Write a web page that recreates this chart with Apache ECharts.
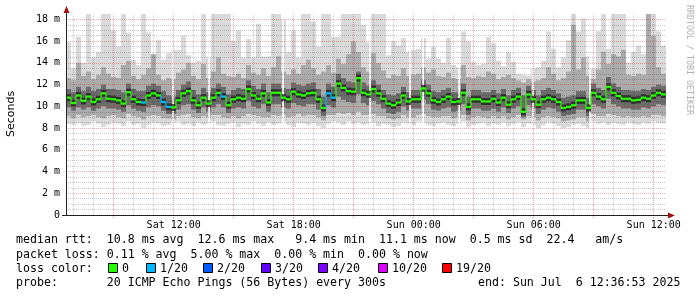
<!DOCTYPE html>
<html><head><meta charset="utf-8">
<script src="https://cdn.jsdelivr.net/npm/echarts@6/dist/echarts.min.js"></script>
<style>html,body{margin:0;padding:0;background:#fff}#c{width:697px;height:297px}</style>
</head><body><div id="c"></div>
<script>
// time in hours since Sat 00:00; window starts Sat 06:36:53 and spans 30 h
const startHour = 6 + 36 / 60 + 53 / 3600;
const spanHours = 30;
const stepHours = 0.25;           // one smoke column = 15 minutes
const gapHours = 5 / 60;           // width of a missing 300 s sample

const median = [10.8,10.3,11.0,10.5,10.9,10.4,10.65,11.2,10.7,10.65,
 10.55,10.25,11.3,10.65,10.4,10.35,11.0,11.2,11.0,10.4,
 9.95,9.9,10.55,11.2,11.4,10.55,10.1,10.8,10.25,10.8,
 11.25,10.9,10.1,10.65,10.8,10.7,11.6,11.0,10.7,11.2,
 10.35,11.25,11.25,10.8,10.65,11.35,11.1,11.0,11.2,11.25,
 10.65,9.85,11.2,10.8,12.1,11.7,11.4,11.35,12.6,11.25,
 11.1,11.6,11.2,10.7,10.25,10.1,10.35,11.0,10.45,10.65,
 10.65,11.65,11.2,10.55,10.4,10.65,10.9,10.4,10.45,11.25,
 9.95,10.65,10.65,10.45,10.45,10.7,10.35,10.8,10.15,10.65,
 10.9,9.5,11.1,10.65,10.15,10.65,10.8,10.65,10.4,9.85,
 9.95,10.1,10.55,10.55,9.85,11.25,10.9,10.65,11.8,11.25,
 10.95,10.7,10.7,10.55,10.6,10.8,10.7,11.0,11.25,11.1];

const lossCount = [0,0,0,0,0,0,0,0,0,0, 0,0,0,0,0,1,0,0,0,1, 1,0,0,0,0,0,0,0,0,0,
 0,1,0,0,0,0,0,0,0,0, 0,0,0,0,0,0,0,0,0,0, 0,0,1,1,0,0,0,0,0,0,
 0,0,0,0,0,0,0,0,0,0, 0,0,0,0,0,0,0,0,0,0, 0,0,0,0,0,0,0,0,0,0,
 0,0,0,0,0,0,0,0,0,0, 0,0,0,0,0,0,0,0,0,0, 0,0,0,0,0,0,0,0,0,0];

const smokeMin = [8.4,8.3,8.5,8.2,8.3,8.6,8.4,8.1,8.3,8.5,8.4,8.2,8.6,8.3,8.4,8.0,8.3,8.5,8.4,8.2,8.3,8.5,8.6,8.3,8.4,8.2,8.5,8.3,8.4,8.6,
 8.3,8.2,8.4,8.5,8.1,8.4,8.3,8.6,8.4,8.2,8.5,8.3,8.4,8.6,8.3,8.1,8.5,8.4,8.3,8.5,8.2,8.0,8.4,8.6,8.5,8.3,8.6,8.4,8.5,8.3,
 8.4,8.5,8.2,8.4,8.3,8.1,8.2,8.5,8.4,8.3,8.6,8.5,8.3,8.2,8.4,8.5,8.3,8.2,8.4,8.6,8.1,8.3,8.4,8.5,8.2,8.4,8.3,8.5,8.2,8.4,
 8.5,8.1,8.4,8.3,8.0,8.3,8.5,8.4,8.2,8.0,8.1,8.3,8.4,8.2,8.0,8.6,8.4,8.5,8.3,8.5,8.4,8.3,8.5,8.4,8.3,8.5,8.4,8.6,8.5,8.4];

const smokeLo = [9.1,8.9,9.2,9.0,9.1,9.2,9.0,8.9,9.1,9.2,9.0,8.9,9.3,9.1,9.0,8.8,9.1,9.2,9.1,8.9,8.9,8.8,9.1,9.2,9.3,9.0,8.9,9.1,9.0,9.2,
 9.2,9.0,8.9,9.1,8.9,9.1,9.3,9.2,9.1,9.0,9.0,9.2,9.1,9.2,9.0,9.1,9.3,9.1,9.2,9.2,9.0,8.7,9.2,9.2,9.4,9.3,9.4,9.2,9.5,9.2,
 9.2,9.3,9.1,9.1,8.9,8.8,8.9,9.2,9.0,9.0,9.2,9.3,9.1,9.0,9.0,9.1,9.1,8.9,9.0,9.2,8.7,9.0,9.1,9.0,8.9,9.1,8.9,9.1,8.8,9.0,
 9.2,8.8,9.1,9.0,8.7,9.0,9.1,9.0,8.9,8.6,8.7,8.8,9.0,9.0,8.6,9.3,9.1,9.1,9.3,9.2,9.1,9.0,9.1,9.0,9.0,9.1,9.0,9.2,9.2,9.1];

const smokeQ1 = [9.9,9.6,9.9,9.7,9.9,9.6,9.8,10.0,9.8,9.8,9.7,9.5,10.1,9.8,9.6,9.5,9.9,10.1,10.0,9.6,9.3,9.3,9.7,10.1,10.2,9.7,9.4,9.9,9.5,9.9,
 10.2,9.9,9.4,9.8,9.9,9.8,10.5,10.0,9.8,10.2,9.5,10.2,10.2,9.9,9.8,10.3,10.1,10.0,10.2,10.2,9.7,9.1,10.1,9.9,10.9,10.6,10.4,10.3,11.1,10.3,
 10.1,10.5,10.2,9.8,9.4,9.3,9.5,10.0,9.6,9.8,9.8,10.6,10.2,9.7,9.6,9.8,9.9,9.5,9.6,10.2,9.2,9.8,9.8,9.6,9.6,9.8,9.5,9.9,9.4,9.8,
 10.0,9.0,10.1,9.8,9.3,9.7,9.9,9.8,9.5,9.1,9.2,9.3,9.7,9.7,9.1,10.2,10.0,9.8,10.7,10.2,10.0,9.8,9.8,9.7,9.7,9.9,9.8,10.0,10.2,10.1];

const smokeQ3 = [11.6,11.3,11.8,11.4,11.8,11.4,11.6,12.0,11.6,11.6,11.5,11.3,12.1,11.6,11.4,11.4,11.9,12.1,11.9,11.4,11.0,10.9,11.5,12.0,12.3,11.5,11.1,11.7,11.3,11.7,
 12.1,11.8,11.1,11.5,11.7,11.6,12.4,11.9,11.6,12.1,11.3,12.1,12.1,11.7,11.6,12.2,12.0,11.9,12.1,12.2,11.6,10.9,12.1,11.8,13.0,12.6,12.3,12.2,13.2,12.2,
 11.9,12.4,12.0,11.5,11.1,11.0,11.2,11.8,11.3,11.5,11.5,12.4,12.0,11.4,11.3,11.5,11.7,11.3,11.3,12.1,10.9,11.5,11.5,11.3,11.3,11.5,11.2,11.6,11.0,11.5,
 11.7,11.0,11.9,11.5,11.0,11.5,11.7,11.5,11.2,10.8,10.9,11.0,11.4,11.4,10.8,12.1,11.7,11.5,12.7,12.1,11.8,11.5,11.5,11.4,11.4,11.6,11.5,11.8,12.0,11.9];

const smokeHi = [12.6,12.4,14.0,12.8,13.2,12.5,12.9,13.6,13.0,12.7,12.6,13.8,14.2,12.8,12.5,12.9,13.5,14.8,12.9,12.4,12.6,12.5,13.1,13.4,14.0,12.8,12.5,13.9,12.6,13.2,
 14.5,13.0,12.8,12.7,13.0,12.6,13.8,13.1,12.9,13.5,12.8,13.6,14.6,13.2,12.9,13.4,13.0,13.8,14.3,13.5,12.9,13.2,13.8,13.1,14.4,13.9,14.8,16.0,15.0,13.6,
 13.2,14.9,14.0,13.3,12.6,12.9,12.8,13.5,12.8,12.9,13.0,13.6,13.1,13.4,12.8,12.7,13.1,12.6,12.5,13.8,12.7,12.6,12.8,12.7,13.2,13.0,12.5,12.7,12.9,12.6,
 12.4,12.2,12.5,12.3,12.4,12.6,13.6,13.0,12.4,12.6,13.2,17.5,13.4,14.5,12.8,12.5,13.4,15.0,13.9,14.8,14.6,15.2,12.9,12.8,13.0,12.9,18.5,16.5,13.6,13.0];

const smokeMax = [15.9,13.5,16.4,14.0,18.5,14.5,15.0,18.5,18.5,17.0,15.5,18.5,16.8,14.3,13.8,18.5,16.8,14.5,16.1,14.3,14.9,15.2,15.2,16.5,14.7,14.0,14.2,18.5,14.5,18.5,
 18.5,18.5,18.5,16.0,17.0,14.5,16.2,14.5,17.6,14.6,14.6,18.5,18.5,18.0,15.0,17.0,14.5,18.5,18.5,17.8,15.5,18.5,18.5,16.4,16.4,18.5,18.5,18.5,18.5,17.5,
 15.9,18.5,18.5,18.5,14.7,16.0,15.6,16.3,15.0,15.2,15.3,16.3,14.4,15.5,14.4,14.0,16.3,13.8,13.6,16.9,16.0,14.1,13.8,13.9,16.4,15.8,14.2,13.7,15.0,14.1,
 13.0,12.9,12.8,13.5,13.6,14.2,16.9,15.3,13.6,14.5,16.1,18.5,16.9,18.1,14.6,13.5,16.9,18.5,15.3,18.5,18.5,18.5,14.0,15.0,15.6,14.8,18.5,18.5,16.9,15.6];

// missing samples (hours since Sat 00:00)
const gapTimes = [11.97, 13.77, 17.47, 21.82, 23.82, 24.47, 26.27, 29.97, 32.82];

const yTicks = [0, 2, 4, 6, 8, 10, 12, 14, 16, 18];
const yTickLabels = ['0', '2 m', '4 m', '6 m', '8 m', '10 m', '12 m', '14 m', '16 m', '18 m'];
const yMinorStep = 0.5;
const yMax = 18.5;
const xLabelHours = [12, 18, 24, 30, 36];
const xLabels = ['Sat 12:00', 'Sat 18:00', 'Sun 00:00', 'Sun 06:00', 'Sun 12:00'];
const xMajorStep = 3, xMinorStep = 1;

const lossLevels = [0, 1, 2, 3, 4, 10, 19];
const lossLabels = ['0', '1/20', '2/20', '3/20', '4/20', '10/20', '19/20'];
const lossColors = ['#26ff00', '#00b8ff', '#0059ff', '#5e00ff', '#7e00ff', '#dd00ff', '#ff0000'];

const legendLines = [
  'median rtt:  10.8 ms avg  12.6 ms max   9.4 ms min  11.1 ms now  0.5 ms sd  22.4   am/s',
  'packet loss: 0.11 % avg  5.00 % max  0.00 % min  0.00 % now',
  'loss color:',
  'probe:       20 ICMP Echo Pings (56 Bytes) every 300s'
];
const endText = 'end: Sun Jul  6 12:36:53 2025';

// ---------- build ----------
const xEnd = startHour + spanHours;
const colTime = i => startHour + (i + 0.5) * stepHours;
const hourTicks = [], majorTicks = [];
for (let h = Math.ceil(startHour); h <= xEnd; h += xMinorStep) { if (h % xMajorStep) hourTicks.push(h); }
for (let h = Math.ceil(startHour / xMajorStep) * xMajorStep; h <= xEnd; h += xMajorStep) majorTicks.push(h);
const yMinor = [];
for (let v = yMinorStep; v < yMax; v += yMinorStep) { if (Math.abs(v / 2 - Math.round(v / 2)) > 1e-6) yMinor.push(v); }

function lossColor(l) {
  let c = lossColors[0];
  for (let k = 0; k < lossLevels.length; k++) if (l >= lossLevels[k]) c = lossColors[k];
  return c;
}
function clipTo(params, r) {
  const cs = params.coordSys;
  return echarts.graphic.clipRectByRect(r, { x: cs.x, y: cs.y, width: cs.width, height: cs.height });
}
function band(lowArr, highArr, color) {
  return {
    type: 'custom', silent: true, z: 1, animation: false,
    renderItem: (params, api) => {
      const t = api.value(0);
      const p1 = api.coord([t - stepHours / 2, api.value(2)]);
      const p2 = api.coord([t + stepHours / 2, api.value(1)]);
      const x1 = Math.round(p1[0]), x2 = Math.round(p2[0]);
      const r = clipTo(params, { x: x1, y: p1[1], width: x2 - x1, height: p2[1] - p1[1] });
      return r && { type: 'rect', shape: r, style: { fill: color } };
    },
    encode: { x: 0, y: [1, 2] },
    data: lowArr.map((v, i) => [colTime(i), v, highArr[i]])
  };
}
function medianSeries(colorFn, widthH, widthV, z) {
  return {
    type: 'custom', silent: true, z: z, animation: false,
    renderItem: (params, api) => {
      const t = api.value(0), m = api.value(1), l = api.value(2), pm = api.value(3);
      const a = api.coord([t - stepHours / 2, m]), b = api.coord([t + stepHours / 2, m]);
      const c = api.coord([t - stepHours / 2, pm]);
      const col = colorFn(l);
      const children = [{ type: 'line', shape: { x1: a[0], y1: a[1], x2: b[0], y2: b[1] }, style: { stroke: col, lineWidth: widthH } }];
      if (widthV > 0) children.unshift({ type: 'line', shape: { x1: a[0], y1: c[1], x2: a[0], y2: a[1] }, style: { stroke: col, lineWidth: widthV } });
      return { type: 'group', children: children };
    },
    encode: { x: 0, y: 1 },
    data: median.map((m, i) => [colTime(i), m, lossCount[i], i ? median[i - 1] : m])
  };
}

const series = [
  band(smokeMin, smokeMax, '#dadada'),
  band(smokeLo, smokeHi, '#ababab'),
  band(smokeQ1, smokeQ3, '#6c6c6c'),
  {
    type: 'custom', silent: true, z: 1, animation: false,
    renderItem: (params, api) => {
      const t = api.value(0);
      const p1 = api.coord([t - gapHours / 2, yMax]);
      const p2 = api.coord([t + gapHours / 2, 0]);
      return { type: 'rect', shape: { x: p1[0], y: p1[1], width: p2[0] - p1[0], height: p2[1] - p1[1] }, style: { fill: '#ffffff' } };
    },
    encode: { x: 0, y: 1 },
    data: gapTimes.map(t => [t, 0])
  },
  medianSeries(() => 'rgba(35,35,35,0.8)', 7, 0, 2),
  medianSeries(lossColor, 2.2, 1.2, 6)
];

const mono = '"DejaVu Sans Mono", monospace';
const gridLineGrey = { show: true, lineStyle: { color: 'rgba(0,0,0,0.2)', type: 'dotted', width: 1 } };
const gridLineRed = { show: true, lineStyle: { color: 'rgba(220,50,50,0.42)', type: 'dotted', width: 1 } };

const graphic = [];
// axes with arrows
graphic.push({ type: 'line', z: 100, shape: { x1: 66.5, y1: 215, x2: 66.5, y2: 10 }, style: { stroke: '#222', lineWidth: 1 } });
graphic.push({ type: 'polygon', z: 100, shape: { points: [[63.5, 13], [69.5, 13], [66.5, 6]] }, style: { fill: '#a01010' } });
graphic.push({ type: 'line', z: 100, shape: { x1: 62, y1: 215.5, x2: 670, y2: 215.5 }, style: { stroke: '#222', lineWidth: 1 } });
graphic.push({ type: 'polygon', z: 100, shape: { points: [[668, 212.5], [668, 218.5], [675, 215.5]] }, style: { fill: '#a01010' } });
// titles
graphic.push({ type: 'text', z: 100, x: 11, y: 114, rotation: Math.PI / 2,
  style: { text: 'Seconds', font: '11px "DejaVu Sans"', fill: '#000', textAlign: 'center', textVerticalAlign: 'middle' } });
graphic.push({ type: 'text', z: 100, x: 689, y: 60, rotation: -Math.PI / 2,
  style: { text: 'RRDTOOL / TOBI OETIKER', font: '8.3px ' + mono, fill: '#b0b0b0', textAlign: 'center', textVerticalAlign: 'middle' } });
// legend text
const lineY = [240, 254.5, 268.5, 283];
legendLines.forEach((s, i) => graphic.push({ type: 'text', z: 100, x: 16, y: lineY[i],
  style: { text: s, font: '11.6px ' + mono, fill: '#000', textVerticalAlign: 'middle' } }));
graphic.push({ type: 'text', z: 100, x: 478, y: lineY[3], style: { text: endText, font: '11.6px ' + mono, fill: '#000', textVerticalAlign: 'middle' } });
const swatchX = [108, 146, 203, 261, 318, 378, 442];
lossLabels.forEach((lab, k) => {
  graphic.push({ type: 'rect', z: 100, shape: { x: swatchX[k] + 0.5, y: 263.5, width: 9, height: 9 }, style: { fill: lossColors[k], stroke: '#000', lineWidth: 1 } });
  graphic.push({ type: 'text', z: 100, x: swatchX[k] + 14, y: lineY[2], style: { text: lab, font: '11.6px ' + mono, fill: '#000', textVerticalAlign: 'middle' } });
});

const chart = echarts.init(document.getElementById('c'), null, { renderer: 'canvas' });
chart.setOption({
  animation: false,
  backgroundColor: '#ffffff',
  grid: { left: 66, top: 215 - 201, width: 600, height: 201, containLabel: false },
  xAxis: [
    { type: 'value', min: startHour, max: xEnd, z: 3, position: 'bottom',
      axisLine: { show: false }, axisLabel: { show: false },
      axisTick: { show: false, customValues: hourTicks }, splitLine: gridLineGrey },
    { type: 'value', min: startHour, max: xEnd, z: 3, position: 'bottom', offset: 0,
      axisLine: { show: false },
      axisTick: { show: true, customValues: majorTicks, length: 3, lineStyle: { color: 'rgba(220,50,50,0.6)', type: 'dotted' } },
      axisLabel: { customValues: xLabelHours, formatter: v => xLabels[xLabelHours.indexOf(Math.round(v))] || '',
        fontFamily: mono, fontSize: 10, color: '#000', margin: 5 },
      splitLine: gridLineRed }
  ],
  yAxis: [
    { type: 'value', min: 0, max: yMax, z: 3,
      axisLine: { show: false }, axisTick: { show: false, customValues: yTicks },
      axisLabel: { customValues: yTicks, formatter: v => yTickLabels[yTicks.indexOf(Math.round(v))] || '',
        fontFamily: mono, fontSize: 10, color: '#000', margin: 6 },
      splitLine: gridLineRed },
    { type: 'value', min: 0, max: yMax, z: 2, position: 'left',
      axisLine: { show: false }, axisLabel: { show: false },
      axisTick: { show: false, customValues: yMinor }, splitLine: gridLineGrey }
  ],
  series: series,
  graphic: graphic
});
</script></body></html>
